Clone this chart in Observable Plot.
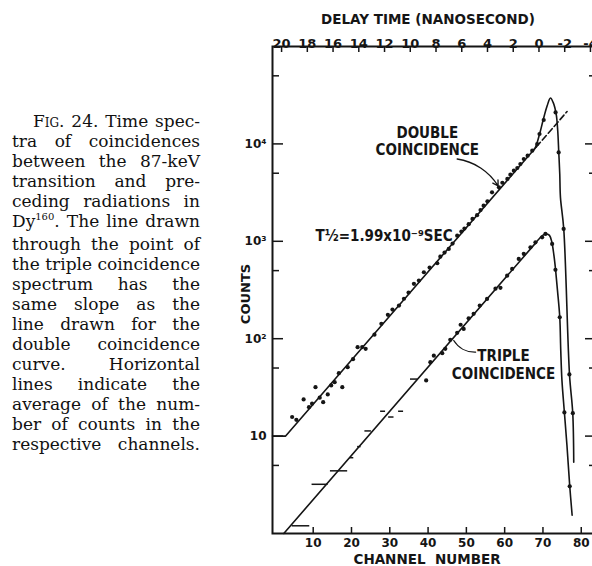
<!DOCTYPE html>
<html><head><meta charset="utf-8">
<script src="https://cdn.jsdelivr.net/npm/d3@7"></script>
<script src="https://cdn.jsdelivr.net/npm/@observablehq/plot@0.6"></script>
<style>
html,body{margin:0;padding:0;background:#fff;overflow:hidden;width:592px;height:566px}
#wrap{position:relative;width:592px;height:566px;overflow:hidden;background:#fff}
#chart{position:absolute;left:0;top:0}
#caption{position:absolute;left:12px;top:111px;width:188px;font-family:"DejaVu Serif",serif;font-size:17px;line-height:20px;color:#111}
.ln{display:flex;justify-content:space-between;white-space:nowrap}
.sc{font-variant:small-caps}
.sup{font-size:10px;position:relative;top:-7px}
</style>
</head><body>
<div id="wrap">
<div id="chart"></div>
<div id="caption">
<div class="ln" style="margin-left:21px"><span class="sc">Fig.</span><span>24.</span><span>Time</span><span>spec-</span></div>
<div class="ln"><span>tra</span><span>of</span><span>coincidences</span></div>
<div class="ln"><span>between</span><span>the</span><span>87-keV</span></div>
<div class="ln"><span>transition</span><span>and</span><span>pre-</span></div>
<div class="ln"><span>ceding</span><span>radiations</span><span>in</span></div>
<div class="ln"><span>Dy<span class="sup">160</span>.</span><span>The</span><span>line</span><span>drawn</span></div>
<div class="ln"><span>through</span><span>the</span><span>point</span><span>of</span></div>
<div class="ln"><span>the</span><span>triple</span><span>coincidence</span></div>
<div class="ln"><span>spectrum</span><span>has</span><span>the</span></div>
<div class="ln"><span>same</span><span>slope</span><span>as</span><span>the</span></div>
<div class="ln"><span>line</span><span>drawn</span><span>for</span><span>the</span></div>
<div class="ln"><span>double</span><span>coincidence</span></div>
<div class="ln"><span>curve.</span><span>Horizontal</span></div>
<div class="ln"><span>lines</span><span>indicate</span><span>the</span></div>
<div class="ln"><span>average</span><span>of</span><span>the</span><span>num-</span></div>
<div class="ln"><span>ber</span><span>of</span><span>counts</span><span>in</span><span>the</span></div>
<div class="ln"><span>respective</span><span>channels.</span></div>
</div>
</div>
<script>
// ---- axis ticks / labels ----
const channelTicks = [10, 20, 30, 40, 50, 60, 70, 80];
const nsTicks = [20, 18, 16, 14, 12, 10, 8, 6, 4, 2, 0, -2, -4];
const zeroDelayChannel = 68.96;   // channel at 0 ns delay
const channelsPerNs = 3.361;      // channels per nanosecond
const countMajor = [10, 100, 1000, 10000];
const countMajorLabels = ["10", "10²", "10³", "10⁴"];
const countMinor = [5, 50, 500, 5000, 50000];

// ---- double coincidence: measured points [channel, counts] ----
const doublePoints = [
  [4.5,15.7],[5.6,14.7],[7.5,23.8],[8.9,19.8],[9.7,21.5],[10.6,31.8],[11.7,24.8],[12.6,22.3],
  [13.8,26.8],[14.7,33.1],[15.6,35.8],[16.7,44.3],[17.6,31.8],[19.0,51],[20.4,61.6],[21.6,81.8],
  [22.8,82],[23.7,78.7],[26.0,110],[27.8,142],[29.5,176],[30.7,199],[32.4,219],[33.7,257],
  [34.9,298],[36.3,366],[37.6,395],[38.9,481],[40.4,537],[42.4,595],[43.2,695],[44.3,766],
  [45.4,836],[46.4,947],[47.6,1142],[48.7,1259],[49.5,1350],[50.6,1500],[51.6,1698],[52.8,1854],
  [53.7,2090],[54.5,2323],[55.5,2570],[56.7,3184],[58.5,3580],[59.4,3990],[60.7,4365],[61.5,4830],
  [62.4,5310],[63.3,5660],[64.1,6220],[65.0,7000],[66.0,7570],[67.2,8510],[68.5,9980],[69.1,12630],
  [70.2,17590],[73.3,21040],[74.1,8180],[75.4,1341],[76.9,43],[77.8,17.2]
];
// fitted exponential (solid part, incl. flat start) and its dashed extension
const doubleFitSolid = [[-0.63,10],[2.8,10],[68.3,9330]];
const doubleFitDashed = [[68.3,9330],[76.3,21500]];
// hand-drawn prompt peak of the double spectrum
const doublePeakCurve = [
  [67.6,8685],[68.04,9204],[69.35,13650],[70.05,17580],[71.1,24640],[71.96,29580],[72.66,26660],
  [73.45,20270],[73.86,13650],[74.13,8180],[74.39,4910],[74.57,2827],[75.43,1340],[76.93,43],
  [77.78,17.2],[78.04,5.4]
];

// ---- triple coincidence ----
const triplePoints = [
  [39.5,37.3],[40.6,57.4],[41.5,67],[43.7,71],[44.5,78.8],[45.8,97.4],[47.6,115],[48.5,139],
  [49.3,126],[50.6,162],[51.9,180],[53.5,219],[55.4,256],[57.6,326],[58.9,333],[60.65,444],
  [61.96,521],[63.68,660],[64.99,743],[66.74,868],[68.04,977],[69.79,1099],[70.65,1191],
  [72.4,940],[73.26,509],[74.39,166],[75.6,17.5],[76.99,3.05]
];
// horizontal bars: [first channel, last channel, average counts]
const tripleBars = [
  [4.5,9.1,1.2],[9.7,13.9,3.2],[14.5,19.0,4.4],[19.6,20.6,6.0],[21.6,22.5,7.8],
  [23.5,25.2,11.3],[27.6,28.9,18],[29.7,31.1,15.7],[32.3,33.6,18],[35.4,37.3,38.5]
];
const tripleFit = [[2.32,1],[68.0,952]];
const triplePeakCurve = [
  [68.0,952],[69.2,1080],[70.2,1170],[71.0,1190],[71.7,1150],[72.3,990],[72.9,700],[73.3,509],
  [73.8,312],[74.39,166],[74.65,75.7],[74.96,37.3],[75.6,17.5],[76.27,8.0],[77.0,3.05],[77.62,1.54]
];

// ---- annotations ----
const notes = [
  {ch: 39.8, count: 12950, text: "DOUBLE"},
  {ch: 39.8, count: 8660, text: "COINCIDENCE"},
  {ch: 59.7, count: 65.7, text: "TRIPLE"},
  {ch: 59.7, count: 43.6, text: "COINCIDENCE"}
];
const halfLife = [{ch: 10.6, count: 1117, text: "T½=1.99x10⁻⁹SEC"}];
const doubleArrow = [{x1: 47.6, y1: 7000, x2: 58.3, y2: 3700}];
const tripleLeader = [{x1: 52.4, y1: 72.7, x2: 46.7, y2: 95.9}];

const ink = "#151515";
const W = 600, H = 566, mL = 272, mR = 7, mT = 46, mB = 33;
const fw = W - mL - mR, fh = H - mT - mB;
const font = "'DejaVu Sans',sans-serif";
const condensed = "'DejaVu Sans Condensed','DejaVu Sans',sans-serif";

const chart = Plot.plot({
  width: W, height: H,
  marginLeft: mL, marginRight: mR, marginTop: mT, marginBottom: mB,
  x: {domain: [-0.63, 83.2]},
  y: {type: "log", domain: [1, 1e5]},
  style: {fontFamily: font, fontWeight: "bold", fontSize: "12px", color: ink, maxWidth: "none", background: "transparent"},
  marks: [
    Plot.frame({stroke: ink, strokeWidth: 2}),
    // inward ticks
    Plot.ruleX(channelTicks, {x: d => d, insetTop: fh - 6, stroke: ink, strokeWidth: 1.5}),
    Plot.ruleX(nsTicks, {x: t => zeroDelayChannel - t * channelsPerNs, insetBottom: fh - 6, stroke: ink, strokeWidth: 1.5}),
    Plot.ruleY(countMajor, {y: d => d, insetRight: fw - 11, stroke: ink, strokeWidth: 1.5}),
    Plot.ruleY(countMinor, {y: d => d, insetRight: fw - 7, stroke: ink, strokeWidth: 1.5}),
    Plot.ruleY(countMajor, {y: d => d, insetLeft: fw - 8, stroke: ink, strokeWidth: 1.5}),
    Plot.ruleY(countMinor, {y: d => d, insetLeft: fw - 4, stroke: ink, strokeWidth: 1.5}),
    // axis labels
    Plot.axisX(channelTicks, {anchor: "bottom", tickSize: 0, tickPadding: 5, label: null, fontSize: 12, fontFamily: font, fontWeight: "bold"}),
    Plot.axisY(countMajor, {anchor: "left", tickSize: 0, tickPadding: 6, label: null, fontSize: 12, fontFamily: font, fontWeight: "bold",
      tickFormat: d => countMajorLabels[countMajor.indexOf(d)]}),
    Plot.text(nsTicks, {x: t => zeroDelayChannel - t * channelsPerNs, text: t => String(t), frameAnchor: "top", dy: -8, fontSize: 13}),
    Plot.text(["CHANNEL  NUMBER"], {frameAnchor: "bottom", dx: -6, dy: 30, fontSize: 13.5}),
    Plot.text(["DELAY TIME (NANOSECOND)"], {frameAnchor: "top", dx: -5, dy: -32, fontSize: 13.5}),
    Plot.text(["COUNTS"], {frameAnchor: "left", textAnchor: "middle", rotate: -90, dx: -27, dy: 4, fontSize: 13}),
    // fitted lines and curves
    Plot.line(doubleFitSolid, {x: "0", y: "1", stroke: ink, strokeWidth: 1.6}),
    Plot.line(doubleFitDashed, {x: "0", y: "1", stroke: ink, strokeWidth: 1.6, strokeDasharray: "6,3"}),
    Plot.line(doublePeakCurve, {x: "0", y: "1", stroke: ink, strokeWidth: 1.6, curve: "catmull-rom"}),
    Plot.line(tripleFit, {x: "0", y: "1", stroke: ink, strokeWidth: 1.6}),
    Plot.line(triplePeakCurve, {x: "0", y: "1", stroke: ink, strokeWidth: 1.6, curve: "catmull-rom"}),
    Plot.ruleY(tripleBars, {x1: "0", x2: "1", y: "2", stroke: ink, strokeWidth: 1.5}),
    Plot.dot(doublePoints, {x: "0", y: "1", r: 2.1, fill: ink, stroke: null}),
    Plot.dot(triplePoints, {x: "0", y: "1", r: 2.1, fill: ink, stroke: null}),
    // annotations
    Plot.text(notes, {x: "ch", y: "count", text: "text", textAnchor: "middle", fontSize: 15, fontFamily: condensed}),
    Plot.text(halfLife, {x: "ch", y: "count", text: "text", textAnchor: "start", fontSize: 15, fontFamily: condensed}),
    Plot.arrow(doubleArrow, {x1: "x1", y1: "y1", x2: "x2", y2: "y2", bend: 25, headLength: 7, stroke: ink, strokeWidth: 1.3}),
    Plot.arrow(tripleLeader, {x1: "x1", y1: "y1", x2: "x2", y2: "y2", bend: 30, headLength: 0, stroke: ink, strokeWidth: 1.3})
  ]
});
document.getElementById("chart").appendChild(chart);
</script>
</body></html>
